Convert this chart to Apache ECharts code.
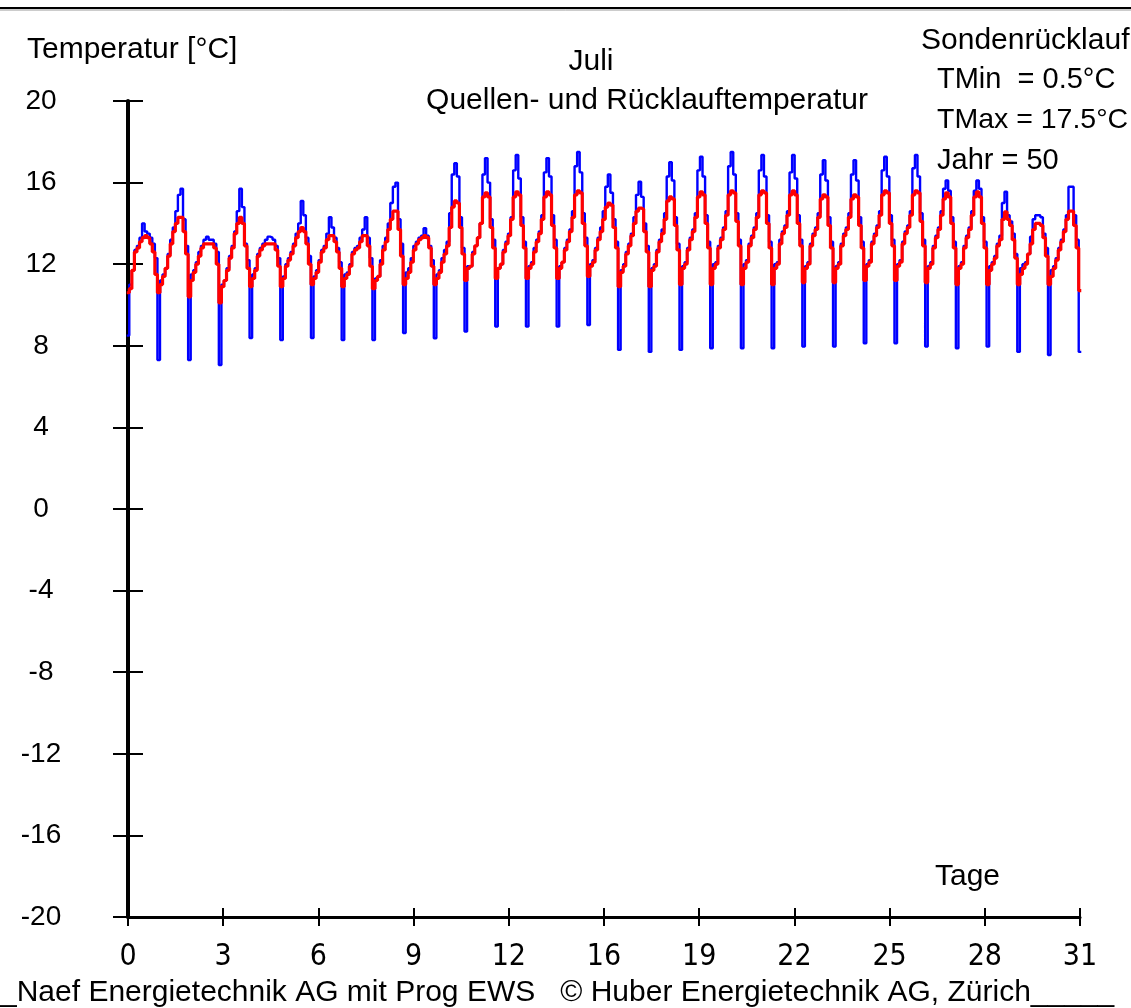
<!DOCTYPE html>
<html><head><meta charset="utf-8">
<script src="https://cdn.jsdelivr.net/npm/echarts@6/dist/echarts.min.js"></script>
<style>html,body{margin:0;padding:0;background:#fff;overflow:hidden}#c{width:1131px;height:1008px}</style>
</head><body><div id="c"></div>
<script>
// x-axis tick labels (ticks every 3.1 days, labels rounded as in the original)
const xTickLabels = ['0','3','6','9','12','16','19','22','25','28','31'];
// y-axis range
const yMin = -20, yMax = 20, yStep = 4;

// Blue curve: per day 12 two-hour values (first value = night dip around midnight)
const quelle = [
  [8.5, 11.0, 11.7, 12.7, 12.9, 13.3, 14.0, 13.6, 13.5, 13.3, 13.0, 12.3],
  [7.3, 11.2, 11.5, 11.8, 12.5, 13.2, 13.8, 14.6, 15.4, 15.7, 14.2, 12.9],
  [7.3, 11.5, 11.7, 12.1, 12.6, 12.9, 13.2, 13.35, 13.2, 13.2, 13.0, 12.6],
  [7.06, 11.0, 11.2, 11.8, 12.4, 12.9, 13.6, 14.6, 15.7, 14.8, 13.0, 12.2],
  [8.38, 11.5, 11.8, 12.5, 12.8, 13.0, 13.2, 13.35, 13.3, 13.2, 12.9, 12.3],
  [8.28, 11.4, 12.0, 12.3, 12.6, 13.0, 13.5, 14.0, 15.1, 14.4, 13.3, 12.4],
  [8.38, 11.4, 11.7, 12.2, 12.7, 12.9, 13.5, 14.3, 13.8, 13.3, 12.8, 12.1],
  [8.28, 11.5, 11.6, 12.0, 12.6, 12.8, 12.9, 13.3, 13.7, 14.3, 13.3, 12.3],
  [8.28, 11.3, 11.4, 12.2, 12.9, 13.3, 14.0, 15.0, 15.8, 16.0, 14.2, 13.0],
  [8.63, 11.6, 11.8, 12.3, 12.9, 13.1, 13.3, 13.4, 13.76, 13.4, 12.9, 12.2],
  [8.37, 11.5, 11.7, 12.3, 12.7, 13.1, 14.5, 16.4, 16.95, 16.3, 14.3, 12.8],
  [8.7, 11.9, 11.9, 12.6, 12.9, 13.3, 14.0, 16.4, 17.2, 16.0, 14.2, 13.2],
  [8.94, 11.8, 12.0, 12.7, 13.1, 13.5, 14.3, 16.6, 17.35, 16.2, 14.3, 13.1],
  [8.94, 11.9, 12.1, 12.8, 13.2, 13.6, 14.4, 16.5, 17.2, 16.3, 14.4, 13.2],
  [8.94, 11.9, 12.1, 12.8, 13.2, 13.7, 14.6, 16.8, 17.5, 16.5, 14.5, 13.3],
  [9.02, 12.0, 12.2, 12.8, 13.3, 13.8, 14.6, 15.8, 16.4, 15.5, 14.2, 13.1],
  [7.8, 11.7, 12.0, 12.6, 13.0, 13.5, 14.3, 15.4, 16.04, 15.3, 14.0, 12.9],
  [7.7, 11.8, 12.0, 12.7, 13.2, 13.7, 14.5, 16.3, 17.0, 16.1, 14.3, 13.0],
  [7.8, 11.9, 12.1, 12.8, 13.3, 13.7, 14.5, 16.6, 17.27, 16.3, 14.4, 13.1],
  [7.88, 12.0, 12.1, 12.9, 13.3, 13.8, 14.6, 16.8, 17.5, 16.4, 14.5, 13.2],
  [7.88, 12.0, 12.2, 13.0, 13.4, 13.8, 14.5, 16.6, 17.35, 16.3, 14.4, 13.1],
  [7.88, 12.0, 12.1, 13.2, 13.6, 13.9, 14.6, 16.5, 17.35, 16.2, 14.4, 13.2],
  [7.96, 11.9, 12.1, 13.0, 13.5, 13.8, 14.5, 16.4, 17.1, 16.1, 14.3, 13.1],
  [7.96, 11.9, 12.1, 13.0, 13.5, 13.8, 14.5, 16.4, 17.1, 16.1, 14.3, 13.1],
  [8.12, 12.0, 12.2, 13.1, 13.5, 13.9, 14.6, 16.6, 17.27, 16.3, 14.4, 13.2],
  [8.12, 12.0, 12.2, 13.1, 13.6, 13.9, 14.6, 16.7, 17.35, 16.3, 14.5, 13.2],
  [7.96, 11.9, 12.1, 12.9, 13.4, 13.8, 14.6, 15.7, 16.1, 15.6, 14.3, 13.1],
  [7.88, 11.9, 12.1, 12.9, 13.4, 13.8, 14.6, 15.6, 16.1, 15.7, 14.3, 13.1],
  [7.96, 11.9, 12.1, 12.4, 13.0, 13.4, 15.0, 15.55, 14.4, 14.1, 13.5, 12.5],
  [7.7, 11.8, 12.0, 12.1, 12.5, 13.35, 14.2, 14.4, 14.4, 14.3, 13.5, 12.8],
  [7.55, 11.7, 11.9, 12.3, 12.8, 13.2, 13.7, 14.4, 15.8, 15.8, 14.4, 13.2],
  [7.7]
];

// Red curve: per day 12 two-hour values
const ruecklauf = [
  [10.6, 10.8, 11.7, 12.6, 12.8, 13.1, 13.3, 13.4, 13.3, 13.0, 12.6, 11.5],
  [10.6, 11.0, 11.4, 11.8, 12.4, 13.0, 13.6, 14.0, 14.3, 14.3, 13.6, 12.5],
  [10.4, 11.2, 11.6, 12.0, 12.4, 12.8, 13.0, 13.0, 13.0, 13.0, 12.8, 12.0],
  [10.1, 10.9, 11.2, 11.7, 12.3, 12.8, 13.5, 14.0, 14.3, 14.0, 12.9, 11.8],
  [10.9, 11.3, 11.7, 12.4, 12.7, 12.9, 13.0, 13.0, 13.0, 13.0, 12.7, 11.9],
  [10.9, 11.3, 11.9, 12.2, 12.5, 12.9, 13.3, 13.6, 13.8, 13.6, 13.0, 12.0],
  [11.0, 11.3, 11.6, 12.1, 12.6, 12.8, 13.2, 13.4, 13.4, 13.1, 12.6, 11.8],
  [10.9, 11.3, 11.5, 11.9, 12.5, 12.7, 12.8, 13.1, 13.4, 13.4, 12.9, 11.9],
  [10.8, 11.2, 11.4, 12.0, 12.7, 13.1, 13.7, 14.2, 14.6, 14.6, 13.7, 12.4],
  [11.0, 11.3, 11.6, 12.1, 12.7, 13.0, 13.2, 13.3, 13.4, 13.3, 12.8, 11.9],
  [11.0, 11.3, 11.6, 12.1, 12.5, 12.9, 13.8, 14.8, 15.1, 15.0, 13.8, 12.5],
  [11.2, 11.8, 11.9, 12.5, 12.9, 13.3, 14.0, 15.3, 15.5, 15.3, 13.8, 12.8],
  [11.3, 11.8, 12.0, 12.6, 13.0, 13.4, 14.2, 15.3, 15.55, 15.4, 13.9, 12.8],
  [11.3, 11.8, 12.0, 12.6, 13.1, 13.5, 14.2, 15.3, 15.55, 15.4, 13.9, 12.8],
  [11.3, 11.8, 12.1, 12.7, 13.1, 13.6, 14.3, 15.4, 15.6, 15.5, 14.0, 12.9],
  [11.4, 11.9, 12.1, 12.7, 13.2, 13.6, 14.2, 14.8, 15.0, 14.9, 13.8, 12.8],
  [10.9, 11.6, 11.9, 12.5, 12.9, 13.4, 14.0, 14.6, 14.75, 14.7, 13.6, 12.6],
  [10.9, 11.7, 11.9, 12.6, 13.1, 13.5, 14.2, 15.1, 15.3, 15.2, 13.9, 12.7],
  [11.0, 11.8, 12.0, 12.7, 13.2, 13.6, 14.3, 15.3, 15.55, 15.4, 14.0, 12.8],
  [11.0, 11.8, 12.0, 12.8, 13.2, 13.7, 14.4, 15.4, 15.6, 15.5, 14.1, 12.9],
  [11.0, 11.8, 12.1, 12.9, 13.3, 13.7, 14.3, 15.4, 15.6, 15.5, 14.0, 12.8],
  [11.0, 11.8, 12.0, 13.0, 13.5, 13.8, 14.4, 15.4, 15.6, 15.4, 14.0, 12.9],
  [11.1, 11.8, 12.0, 12.9, 13.4, 13.7, 14.3, 15.2, 15.4, 15.3, 13.9, 12.8],
  [11.1, 11.8, 12.0, 12.9, 13.4, 13.7, 14.3, 15.2, 15.4, 15.3, 13.9, 12.8],
  [11.2, 11.9, 12.1, 13.0, 13.4, 13.8, 14.4, 15.4, 15.6, 15.5, 14.0, 12.9],
  [11.2, 11.9, 12.1, 13.0, 13.5, 13.8, 14.4, 15.4, 15.6, 15.5, 14.1, 12.9],
  [11.1, 11.8, 12.0, 12.8, 13.3, 13.7, 14.4, 15.2, 15.5, 15.3, 14.0, 12.8],
  [11.0, 11.8, 12.0, 12.8, 13.3, 13.7, 14.4, 15.3, 15.55, 15.3, 14.0, 12.8],
  [11.0, 11.7, 12.0, 12.3, 12.9, 13.2, 14.2, 14.57, 14.2, 13.9, 13.2, 12.3],
  [11.0, 11.5, 11.8, 12.0, 12.5, 13.0, 13.7, 14.0, 14.0, 13.9, 13.3, 12.4],
  [11.0, 11.4, 11.8, 12.2, 12.7, 13.1, 13.6, 14.2, 14.6, 14.6, 13.9, 12.8],
  [10.7]
];

const hoursPerBin = 2;

function toSteps(rows) {
  const out = [];
  rows.forEach((row, d) => {
    row.forEach((v, k) => {
      out.push([d + (k * hoursPerBin - 1) / 24, v]);
    });
  });
  const last = out[out.length - 1];
  out.push([last[0] + hoursPerBin / 24, last[1]]);
  return out;
}

const FONT = '"Liberation Sans", Arial, sans-serif';
const NARROW = '"Liberation Sans Narrow", "DejaVu Sans Condensed", "Liberation Sans", sans-serif';

const chart = echarts.init(document.getElementById('c'), null, { renderer: 'canvas' });

function txt(text, x, y, align, size, family) {
  return {
    type: 'text', x: x, y: y, silent: true,
    style: { text: text, fill: '#000', font: (size || 30) + 'px ' + (family || FONT),
             textAlign: align || 'left', textVerticalAlign: 'middle' }
  };
}

const option = {
  animation: false,
  backgroundColor: '#fff',
  grid: { left: 128, right: 51, top: 101, bottom: 91, containLabel: false },
  xAxis: [
    {
      type: 'value', min: 0, max: 31, interval: 3.1,
      axisLine: { show: true, onZero: false, lineStyle: { color: '#000', width: 3 } },
      axisTick: { show: true, length: 9, lineStyle: { color: '#000', width: 2 } },
      axisLabel: {
        show: true, margin: 25, color: '#000', fontSize: 30, fontFamily: NARROW,
        formatter: function (v) { return xTickLabels[Math.round(v / 3.1)]; }
      },
      splitLine: { show: false }
    },
    {
      type: 'value', position: 'bottom', min: 0, max: 31, interval: 3.1,
      axisLine: { show: false, onZero: false },
      axisTick: { show: true, inside: true, length: 9, lineStyle: { color: '#000', width: 2 } },
      axisLabel: { show: false }, splitLine: { show: false }
    }
  ],
  yAxis: [
    {
      type: 'value', min: yMin, max: yMax, interval: yStep,
      axisLine: { show: true, onZero: false, lineStyle: { color: '#000', width: 4 } },
      axisTick: { show: true, length: 15, lineStyle: { color: '#000', width: 2 } },
      axisLabel: { show: true, margin: 87, align: 'center', color: '#000', fontSize: 28, fontFamily: FONT },
      splitLine: { show: false }
    },
    {
      type: 'value', position: 'left', min: yMin, max: yMax, interval: yStep,
      axisLine: { show: false, onZero: false },
      axisTick: { show: true, inside: true, length: 15, lineStyle: { color: '#000', width: 2 } },
      axisLabel: { show: false }, splitLine: { show: false }
    }
  ],
  series: [
    {
      name: 'Quelle', type: 'line', step: 'end', xAxisIndex: 0, yAxisIndex: 0,
      data: toSteps(quelle), symbol: 'none', showSymbol: false, clip: true,
      lineStyle: { color: '#0000ff', width: 2.4 }, z: 3
    },
    {
      name: 'Rücklauf', type: 'line', step: 'end', xAxisIndex: 0, yAxisIndex: 0,
      data: toSteps(ruecklauf), symbol: 'none', showSymbol: false, clip: true,
      lineStyle: { color: '#ff0000', width: 3.2 }, z: 4
    }
  ],
  graphic: [
    { type: 'line', silent: true, shape: { x1: 0, y1: 8, x2: 1131, y2: 8 }, style: { stroke: '#000', lineWidth: 2 } },
    { type: 'line', silent: true, shape: { x1: 0, y1: 10, x2: 1131, y2: 10 }, style: { stroke: '#999', lineWidth: 1 } },
    txt('Temperatur [°C]', 27, 50, 'left', 30),
    txt('Juli', 591, 62, 'center', 30),
    txt('Quellen- und Rücklauftemperatur', 647, 101, 'center', 30),
    txt('Sondenrücklauf', 921, 41, 'left', 30),
    txt('TMin  = 0.5°C', 937, 80, 'left', 29),
    txt('TMax = 17.5°C', 937, 120, 'left', 28.5),
    txt('Jahr = 50', 937, 161, 'left', 29),
    txt('Tage', 935, 877, 'left', 30),
    txt('_Naef Energietechnik AG mit Prog EWS   © Huber Energietechnik AG, Zürich_____', 0, 993, 'left', 30)
  ]
};
chart.setOption(option);
</script>
</body></html>
